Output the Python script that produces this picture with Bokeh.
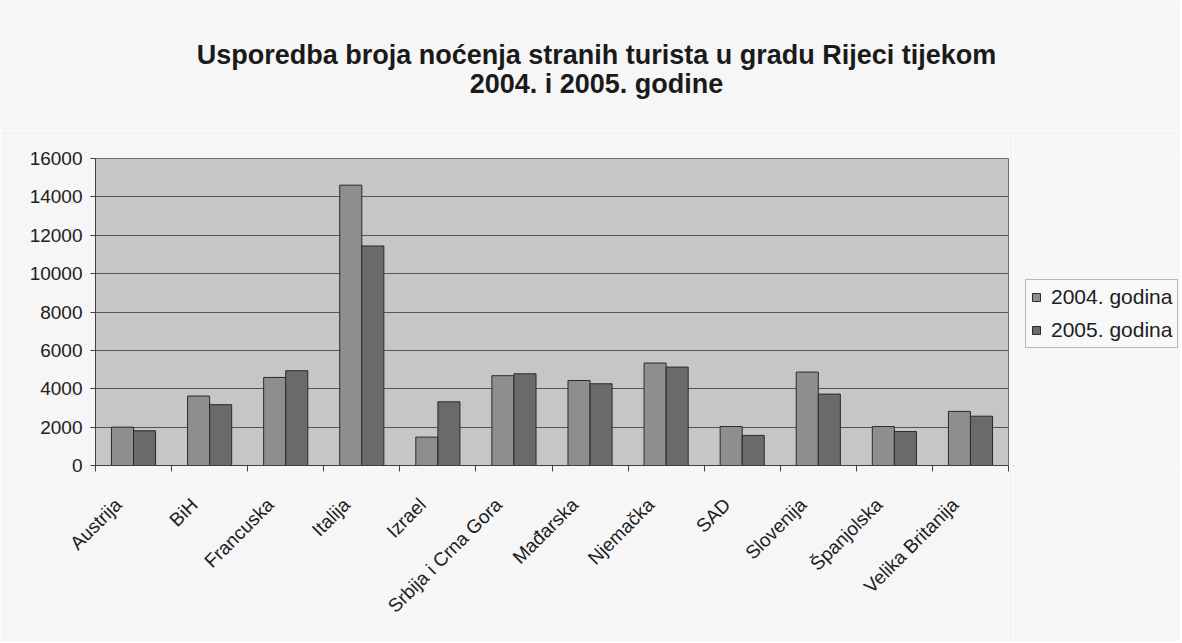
from bokeh.plotting import figure
from bokeh.models import (ColumnDataSource, Range1d, FixedTicker, Legend, LegendItem)
from bokeh.layouts import column, row
from bokeh.transform import dodge
from bokeh.core.properties import value
from bokeh.embed import file_html
from bokeh.resources import INLINE
import math

countries = ["Austrija", "BiH", "Francuska", "Italija", "Izrael", "Srbija i Crna Gora",
             "Mađarska", "Njemačka", "SAD", "Slovenija", "Španjolska", "Velika Britanija"]
v2004 = [2000, 3620, 4590, 14610, 1480, 4680, 4430, 5340, 2030, 4870, 2030, 2820]
v2005 = [1810, 3170, 4940, 11440, 3320, 4780, 4260, 5130, 1570, 3720, 1770, 2570]
series_names = ["2004. godina", "2005. godina"]
title_lines = ["Usporedba broja noćenja stranih turista u gradu Rijeci tijekom",
               "2004. i 2005. godine"]
y_ticks = list(range(0, 16001, 2000))

FONT = "Liberation Sans"
BG = "#f6f6f6"
C2004, C2005, EDGE = "#8e8e8e", "#6a6a6a", "#2a2a2a"
n = len(countries)
centers = [i + 0.5 for i in range(n)]
label_pos = [c - 0.2 for c in centers]   # Excel-like offset of rotated labels
src = ColumnDataSource(dict(x=centers, v2004=v2004, v2005=v2005, name=countries))

W, H = 1180, 641
TH = 130            # height of title strip
MW = 1013           # width of main chart figure


def blank(fig):
    fig.background_fill_color = BG
    fig.border_fill_color = BG
    fig.outline_line_color = None
    fig.grid.grid_line_color = None
    return fig


# ---- title strip ----
tf = blank(figure(width=W, height=TH, output_backend="svg", toolbar_location=None,
                  x_range=Range1d(0, W), y_range=Range1d(TH, 0),
                  x_axis_location=None, y_axis_location=None, min_border=0))
tsrc = ColumnDataSource(dict(x=[596, 596], y=[54, 83], t=title_lines))
tf.text(x="x", y="y", text="t", source=tsrc, text_font=value(FONT), text_font_size="27px",
        text_font_style="bold", text_align="center", text_baseline="middle", text_color="#1a1a1a")

# ---- main chart ----
MH = H - TH
p = figure(width=MW, height=MH, output_backend="svg", toolbar_location=None,
           x_range=Range1d(0, n), y_range=Range1d(0, 16000),
           min_border_left=95, min_border_right=MW - 1008, min_border_top=158 - TH,
           min_border_bottom=MH - (465 - TH))
p.background_fill_color = "#c6c6c6"
p.border_fill_color = BG
p.outline_line_color = "#707070"
p.outline_line_width = 1

p.vbar(x=dodge("x", -0.145, range=p.x_range), top="v2004", width=0.29, source=src,
       fill_color=C2004, line_color=EDGE, line_width=1)
p.vbar(x=dodge("x", 0.145, range=p.x_range), top="v2005", width=0.29, source=src,
       fill_color=C2005, line_color=EDGE, line_width=1)

p.yaxis.ticker = FixedTicker(ticks=y_ticks)
p.yaxis.major_label_text_font = FONT
p.yaxis.major_label_text_font_size = "19px"
p.yaxis.major_label_text_color = "#202020"
p.yaxis.axis_line_color = "#404040"
p.yaxis.major_tick_line_color = "#404040"
p.yaxis.major_tick_out = 5
p.yaxis.major_tick_in = 0
p.yaxis.minor_tick_line_color = None
p.yaxis.major_label_standoff = 8

p.xaxis.ticker = FixedTicker(ticks=label_pos, minor_ticks=list(range(n + 1)))
p.xaxis.major_label_overrides = {c: name for c, name in zip(label_pos, countries)}
p.xaxis.major_label_orientation = math.pi / 4
p.xaxis.major_label_text_font = FONT
p.xaxis.major_label_text_font_size = "19px"
p.xaxis.major_label_text_color = "#202020"
p.xaxis.axis_line_color = "#404040"
p.xaxis.major_tick_line_color = None
p.xaxis.minor_tick_line_color = "#404040"
p.xaxis.minor_tick_out = 6
p.xaxis.minor_tick_in = 0
p.xaxis.major_label_standoff = 30

p.xgrid.grid_line_color = None
p.ygrid.grid_line_color = "#555555"
p.ygrid.grid_line_width = 1

# ---- legend strip (legend swatches use off-screen proxy glyphs) ----
LW = W - MW
lf = blank(figure(width=LW, height=MH, output_backend="svg", toolbar_location=None,
                  x_range=Range1d(0, 1), y_range=Range1d(0, 1),
                  x_axis_location=None, y_axis_location=None, min_border=0))
proxy = ColumnDataSource(dict(x=[-10], top=[-10]))
l1 = lf.vbar(x="x", top="top", bottom=-11, width=0.1, source=proxy,
             fill_color=C2004, line_color=EDGE)
l2 = lf.vbar(x="x", top="top", bottom=-11, width=0.1, source=proxy,
             fill_color=C2005, line_color=EDGE)
legend = Legend(items=[LegendItem(label=series_names[0], renderers=[l1], index=0),
                       LegendItem(label=series_names[1], renderers=[l2], index=0)],
                location=(1025 - MW, 117), orientation="vertical")
legend.label_text_font = FONT
legend.label_text_font_size = "21px"
legend.label_text_color = "#202020"
legend.glyph_width = 10
legend.glyph_height = 10
legend.label_standoff = 10
legend.spacing = 9
legend.padding = 5
legend.margin = 0
legend.border_line_color = "#7a7a7a"
legend.background_fill_color = "#f8f8f8"
legend.background_fill_alpha = 1
lf.add_layout(legend, "center")

layout = column(tf, row(p, lf, spacing=0), spacing=0)
open("out.html", "w").write(file_html(layout, INLINE))
